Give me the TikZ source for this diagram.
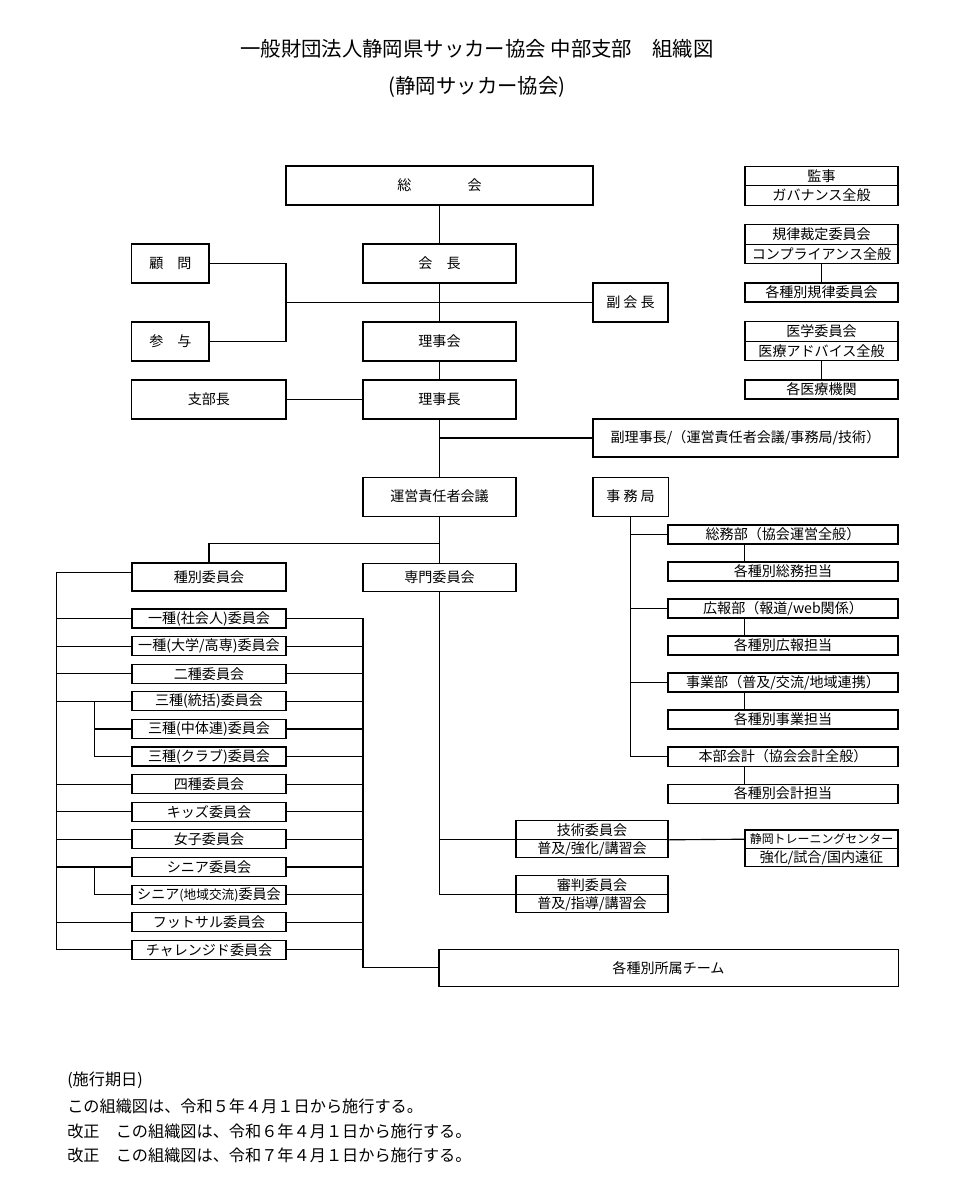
\documentclass[tikz,border=0pt]{standalone}
\usepackage{fontspec}
\newfontfamily\jp{Noto Sans CJK JP}
\usetikzlibrary{positioning, calc}

\begin{document}
\begin{tikzpicture}[x=0.025cm, y=-0.025cm, on grid, line width=0.8pt,
    every node/.style={font=\jp\fontsize{10}{12}\selectfont},
    box/.style={draw, inner sep=0pt, minimum width=3.825cm, minimum height=0.975cm},
    cell/.style={draw, inner sep=0pt, minimum width=3.825cm, minimum height=0.4875cm},
    item/.style={draw, inner sep=0pt, minimum width=3.85cm, minimum height=0.475cm},
    jimu/.style={draw, inner sep=0pt, minimum width=5.75cm, minimum height=0.475cm},
    note/.style={anchor=west, inner sep=0pt, font=\jp\fontsize{11.5}{13}\selectfont}]
    \useasboundingbox (0,0) rectangle (960,1200);

    % Title
    \node[font=\jp\fontsize{14.5}{16}\selectfont] (title) at (477,49) {一般財団法人静岡県サッカー協会 中部支部　組織図};
    \node[font=\jp\fontsize{14.5}{16}\selectfont] (subtitle) at (477,87) {(静岡サッカー協会)};

    % Nodes
    \node[box, minimum width=7.675cm] (soukai) at (439.5,185.5) {総\hspace{4em}会};
    \node[box] (kaicho) [below=1.95cm of soukai] {会　長};
    \node[box] (rijikai) [below=1.95cm of kaicho] {理事会};
    \node[box] (rijicho) [below=1.45cm of rijikai] {理事長};
    \node[box] (unei) [below=2.425cm of rijicho] {運営責任者会議};
    \node[box, minimum width=1.925cm] (komon) [left=6.725cm of kaicho] {顧　問};
    \node[box, minimum width=1.925cm] (sanyo) [below=1.95cm of komon] {参　与};
    \node[box, minimum width=3.85cm] (shibucho) [left=5.7625cm of rijicho] {支部長};
    \node[box, minimum width=1.875cm] (fukukaicho) at (630.5,302.5) {副 会 長};
    \node[box, minimum width=7.625cm, minimum height=0.95cm] (fukuriji) at (745.5,438) {副理事長/（運営責任者会議/事務局/技術）};
    \node[box, minimum width=1.875cm] (jimukyoku) [right=4.775cm of unei] {事 務 局};

    \node[cell] (kanjiA) at (821.5,176) {監事};
    \node[cell] (kanjiB) [below=0.4875cm of kanjiA] {ガバナンス全般};
    \node[cell] (kiritsuA) at (821.5,234.5) {規律裁定委員会};
    \node[cell] (kiritsuB) [below=0.4875cm of kiritsuA] {コンプライアンス全般};
    \node[cell, minimum height=0.475cm] (kiritsuC) [below=0.9625cm of kiritsuB] {各種別規律委員会};
    \node[cell] (igakuA) at (821.5,331.5) {医学委員会};
    \node[cell] (igakuB) [below=0.4875cm of igakuA] {医療アドバイス全般};
    \node[cell, minimum height=0.475cm] (igakuC) [below=0.9625cm of igakuB] {各医療機関};

    \node[box, minimum width=3.85cm, minimum height=0.7cm] (syubetsu) at (209,577) {種別委員会};
    \node[box, minimum height=0.7cm] (senmon) [below=2.0125cm of unei] {専門委員会};
    \node[item] (c1) [below=1.0375cm of syubetsu] {一種(社会人)委員会};
    \node[item] (c2) [below=0.69cm of c1] {一種(大学/高専)委員会};
    \node[item] (c3) [below=0.69cm of c2] {二種委員会};
    \node[item] (c4) [below=0.69cm of c3] {三種(統括)委員会};
    \node[item] (c5) [below=0.69cm of c4] {三種(中体連)委員会};
    \node[item] (c6) [below=0.69cm of c5] {三種(クラブ)委員会};
    \node[item] (c7) [below=0.69cm of c6] {四種委員会};
    \node[item] (c8) [below=0.69cm of c7] {キッズ委員会};
    \node[item] (c9) [below=0.69cm of c8] {女子委員会};
    \node[item] (c10) [below=0.69cm of c9] {シニア委員会};
    \node[item] (c11) [below=0.69cm of c10] {シニア{\fontsize{9}{10}\selectfont(地域交流)}委員会};
    \node[item] (c12) [below=0.69cm of c11] {フットサル委員会};
    \node[item] (c13) [below=0.69cm of c12] {チャレンジド委員会};

    \node[jimu] (soumu) at (783,534.5) {総務部（協会運営全般）};
    \node[jimu] (soumuT) [below=0.925cm of soumu] {各種別総務担当};
    \node[jimu] (koho) [below=0.925cm of soumuT] {広報部（報道/web関係）};
    \node[jimu] (kohoT) [below=0.925cm of koho] {各種別広報担当};
    \node[jimu] (jigyo) [below=0.925cm of kohoT] {事業部（普及/交流/地域連携）};
    \node[jimu] (jigyoT) [below=0.925cm of jigyo] {各種別事業担当};
    \node[jimu] (kaikei) [below=0.925cm of jigyoT] {本部会計（協会会計全般）};
    \node[jimu] (kaikeiT) [below=0.925cm of kaikei] {各種別会計担当};

    \node[cell, minimum width=3.8cm, minimum height=0.4625cm] (gijutsuA) at (592,830) {技術委員会};
    \node[cell, minimum width=3.8cm, minimum height=0.4625cm] (gijutsuB) [below=0.4625cm of gijutsuA] {普及/強化/講習会};
    \node[cell, minimum width=3.8cm, minimum height=0.4625cm] (shinpanA) at (592,885) {審判委員会};
    \node[cell, minimum width=3.8cm, minimum height=0.4625cm] (shinpanB) [below=0.4625cm of shinpanA] {普及/指導/講習会};
    \node[cell, minimum height=0.46cm, font=\jp\fontsize{8.5}{10}\selectfont] (toreA) at (821.5,839.2) {静岡トレーニングセンター};
    \node[cell, minimum height=0.46cm] (toreB) [below=0.46cm of toreA] {強化/試合/国内遠征};
    \node[box, minimum width=11.475cm, minimum height=0.925cm] (shozoku) at (668.5,967.7) {各種別所属チーム};

    \node[note] (note1) at (66.7,1080) {(施行期日)};
    \node[note] (note2) at (66.7,1106) {この組織図は、令和５年４月１日から施行する。};
    \node[note] (note3) at (66.7,1131) {改正　この組織図は、令和６年４月１日から施行する。};
    \node[note] (note4) at (66.7,1155) {改正　この組織図は、令和７年４月１日から施行する。};

    % Lines
    \coordinate (kj) at (286,302.5);
    \coordinate (bunki) at (439.5,543.7);
    \coordinate (lbus) at (56.7,0);
    \coordinate (sbus) at (94.3,0);
    \coordinate (rbus) at (363,0);

    \draw (soukai) -- (kaicho) -- (rijikai) -- (rijicho) -- (unei) -- (senmon);
    \draw (komon.east) -| (kj) |- (sanyo.east);
    \draw (kj) -- (fukukaicho);
    \draw (shibucho) -- (rijicho);
    \draw (fukuriji.west) -- (fukuriji.west -| rijicho.south);
    \draw (bunki) -| (syubetsu.north);
    \draw (kiritsuB) -- (kiritsuC);
    \draw (igakuB) -- (igakuC);

    \draw (jimukyoku.south) |- (soumu.west);
    \draw (jimukyoku.south) |- (koho.west);
    \draw (jimukyoku.south) |- (jigyo.west);
    \draw (jimukyoku.south) |- (kaikei.west);
    \path (soumu.south -| kanjiA.west) edge (soumuT.north -| kanjiA.west)
          (koho.south -| kanjiA.west) edge (kohoT.north -| kanjiA.west)
          (jigyo.south -| kanjiA.west) edge (jigyoT.north -| kanjiA.west)
          (kaikei.south -| kanjiA.west) edge (kaikeiT.north -| kanjiA.west);

    \draw (senmon.south) |- (shinpanA.south west);
    \draw (gijutsuA.south west -| senmon.south) -- (gijutsuA.south west);
    \draw (gijutsuA.south east) -- (toreA.west);

    \draw ([yshift=3.5pt]syubetsu.west) -| (lbus |- c13.west) -- (c13.west);
    \path (c1.west) edge (lbus |- c1.west)
          (c2.west) edge (lbus |- c2.west)
          (c3.west) edge (lbus |- c3.west)
          (c4.west) edge (lbus |- c4.west)
          (c7.west) edge (lbus |- c7.west)
          (c8.west) edge (lbus |- c8.west)
          (c9.west) edge (lbus |- c9.west)
          (c10.west) edge (lbus |- c10.west)
          (c12.west) edge (lbus |- c12.west);
    \draw (sbus |- c4.west) |- (c6.west);
    \draw (sbus |- c5.west) -- (c5.west);
    \draw (sbus |- c10.west) |- (c11.west);

    \draw (c1.east) -| (rbus |- shozoku.west) -- (shozoku.west);
    \path (c2.east) edge (rbus |- c2.east)
          (c3.east) edge (rbus |- c3.east)
          (c4.east) edge (rbus |- c4.east)
          (c5.east) edge (rbus |- c5.east)
          (c6.east) edge (rbus |- c6.east)
          (c7.east) edge (rbus |- c7.east)
          (c8.east) edge (rbus |- c8.east)
          (c9.east) edge (rbus |- c9.east)
          (c10.east) edge (rbus |- c10.east)
          (c11.east) edge (rbus |- c11.east)
          (c12.east) edge (rbus |- c12.east)
          (c13.east) edge (rbus |- c13.east);
\end{tikzpicture}
\end{document}
